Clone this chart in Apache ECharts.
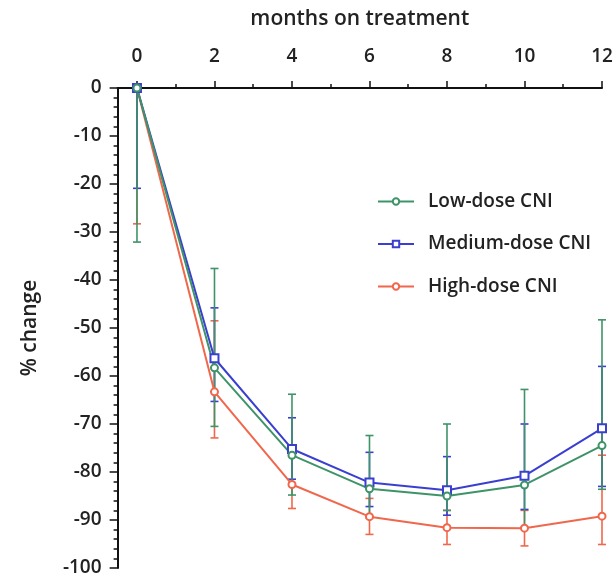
<!DOCTYPE html>
<html>
<head>
<meta charset="utf-8">
<script src="https://cdn.jsdelivr.net/npm/echarts@6/dist/echarts.min.js"></script>
<style>
  html, body { margin: 0; padding: 0; background: #fff; }
  #chart { width: 616px; height: 578px; }
</style>
</head>
<body>
<div id="chart"></div>
<script>
// months on treatment
const months = [0, 2, 4, 6, 8, 10, 12]
const majorTicks = [0, 2, 4, 6, 8, 10, 12]
const minorTicks = [1, 3, 5, 7, 9, 11]

// % change, mean and error bar ends
const lowMean = [0, -58.3, -76.5, -83.5, -85, -82.7, -74.5]
const lowUpper = [0, -37.6, -63.8, -72.4, -70, -62.8, -48.3]
const lowLower = [-32.1, -70.5, -84.8, -89.5, -88, -91.5, -83.6]

const medMean = [0, -56.3, -75.2, -82.2, -83.8, -80.8, -70.9]
const medUpper = [0, -45.8, -68.7, -75.9, -76.8, -70, -58]
const medLower = [-20.9, -65.3, -81.5, -87.2, -89, -87.8, -83]

const highMean = [0, -63.3, -82.6, -89.3, -91.6, -91.7, -89.2]
const highUpper = [0, -48.5, -74.4, -85.5, -88, -88, -76.5]
const highLower = [-28.3, -72.9, -87.6, -93, -95.1, -95.4, -95.1]

const names = ['Low-dose CNI', 'Medium-dose CNI', 'High-dose CNI']
const colors = ['#3f9368', '#3a3fd0', '#f0674c']

const chart = echarts.init(document.getElementById('chart'))

function lineSeries(name, mean, color, symbol, size) {
  return {
    name: name,
    type: 'line',
    data: months.map((m, i) => [m, mean[i]]),
    symbol: symbol,
    symbolSize: size,
    showSymbol: true,
    color: color,
    lineStyle: { color: color, width: 2 },
    itemStyle: { color: color, borderColor: color, borderWidth: 1.6 },
    z: 3
  }
}

// error bars drawn as whiskers with caps
function errorSeries(name, lower, upper, color) {
  return {
    name: name + ' SD',
    type: 'custom',
    data: months.map((m, i) => [m, lower[i], upper[i]]),
    renderItem: function (params, api) {
      const lo = api.coord([api.value(0), api.value(1)])
      const hi = api.coord([api.value(0), api.value(2)])
      const cap = 4
      const style = { stroke: color, lineWidth: 1.6 }
      return {
        type: 'group',
        children: [
          { type: 'line', shape: { x1: lo[0], y1: lo[1], x2: hi[0], y2: hi[1] }, style: style },
          { type: 'line', shape: { x1: lo[0] - cap, y1: lo[1], x2: lo[0] + cap, y2: lo[1] }, style: style },
          { type: 'line', shape: { x1: hi[0] - cap, y1: hi[1], x2: hi[0] + cap, y2: hi[1] }, style: style }
        ]
      }
    },
    z: 2
  }
}

const font = 'Open Sans, Noto Sans, sans-serif'

const option = {
  animation: false,
  textStyle: { fontFamily: font },
  grid: { left: 117.6, right: 14, top: 88, bottom: 10 },
  legend: {
    data: names,
    orient: 'vertical',
    left: 372,
    top: 187,
    itemWidth: 36,
    itemHeight: 8,
    itemGap: 23.5,
    textStyle: { fontSize: 19, fontWeight: 600, color: '#222', fontFamily: font, padding: [0, 0, 0, 9] }
  },
  xAxis: [
    {
      type: 'value',
      position: 'top',
      min: -0.5,
      max: 12,
      name: 'months on treatment',
      nameLocation: 'middle',
      nameGap: 58,
      nameTextStyle: { fontSize: 21, fontWeight: 600, color: '#222', fontFamily: font },
      axisLine: { show: true, onZero: false, lineStyle: { color: '#111', width: 2 } },
      axisTick: { show: true, length: 7, customValues: majorTicks, lineStyle: { color: '#111', width: 1.5 } },
      axisLabel: { customValues: majorTicks, margin: 22, fontSize: 19, fontWeight: 600, color: '#222' },
      splitLine: { show: false }
    },
    {
      type: 'value',
      position: 'top',
      min: -0.5,
      max: 12,
      axisLine: { show: false, onZero: false },
      axisTick: { show: true, length: 4, customValues: minorTicks, lineStyle: { color: '#111', width: 1.5 } },
      axisLabel: { show: false },
      splitLine: { show: false }
    }
  ],
  yAxis: {
    type: 'value',
    min: -100,
    max: 0,
    interval: 10,
    name: '% change',
    nameLocation: 'middle',
    nameGap: 77,
    nameTextStyle: { fontSize: 21, fontWeight: 600, color: '#222', fontFamily: font },
    axisLine: { show: true, onZero: false, lineStyle: { color: '#111', width: 2 } },
    axisTick: { show: true, length: 8, lineStyle: { color: '#111', width: 1.5 } },
    minorTick: { show: true, splitNumber: 5, length: 4, lineStyle: { color: '#111', width: 1.5 } },
    axisLabel: { margin: 16, fontSize: 19, fontWeight: 600, color: '#222' },
    splitLine: { show: false }
  },
  series: [
    errorSeries('High-dose CNI', highLower, highUpper, colors[2]),
    errorSeries('Medium-dose CNI', medLower, medUpper, colors[1]),
    errorSeries('Low-dose CNI', lowLower, lowUpper, colors[0]),
    lineSeries('High-dose CNI', highMean, colors[2], 'emptyCircle', 7),
    lineSeries('Medium-dose CNI', medMean, colors[1], 'emptyRect', 8),
    lineSeries('Low-dose CNI', lowMean, colors[0], 'emptyCircle', 7)
  ]
}

chart.setOption(option)
</script>
</body>
</html>
